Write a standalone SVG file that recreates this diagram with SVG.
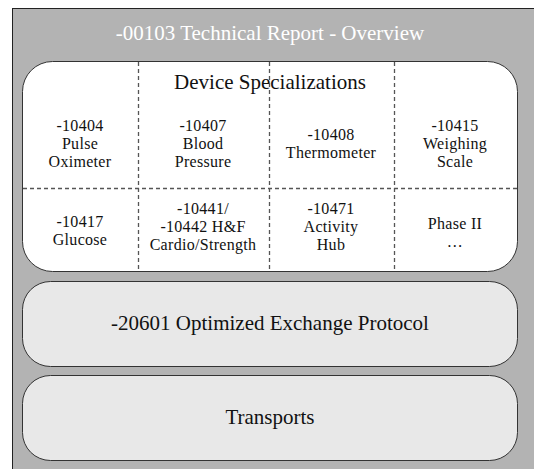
<svg xmlns="http://www.w3.org/2000/svg" width="534" height="469" viewBox="0 0 534 469">
<style>
text{font-family:"Liberation Serif","DejaVu Serif",serif;text-anchor:middle;fill:#111}
.t{font-size:16px;letter-spacing:0.3px}
.h{font-size:21px}
.d{stroke:#555;stroke-width:1.3;stroke-dasharray:4 3;fill:none}
.box{stroke:#333;stroke-width:1}
</style>
<g id="frame">
<rect x="12.5" y="8.5" width="530" height="470" fill="#b3b3b3" stroke="#222" stroke-width="1"/>
<text x="270" y="40" class="h" style="fill:#fff">-00103 Technical Report - Overview</text>
</g>
<g id="device-specializations">
<rect x="22.5" y="61.5" width="495" height="210" rx="30" ry="30" fill="#fff" class="box"/>
<text x="270" y="89" class="h">Device Specializations</text>
</g>
<g id="connectors">
<line x1="138.5" y1="62" x2="138.5" y2="271" class="d"/>
<line x1="269.5" y1="62" x2="269.5" y2="271" class="d"/>
<line x1="394.5" y1="62" x2="394.5" y2="271" class="d"/>
<line x1="23" y1="188.5" x2="517" y2="188.5" class="d"/>
</g>
<g id="c10404"><text x="80" y="131" class="t">-10404</text><text x="80" y="149" class="t">Pulse</text><text x="80" y="167" class="t">Oximeter</text></g>
<g id="c10407"><text x="203" y="131" class="t">-10407</text><text x="203" y="149" class="t">Blood</text><text x="203" y="167" class="t">Pressure</text></g>
<g id="c10408"><text x="331" y="140" class="t">-10408</text><text x="331" y="158" class="t">Thermometer</text></g>
<g id="c10415"><text x="455" y="131" class="t">-10415</text><text x="455" y="149" class="t">Weighing</text><text x="455" y="167" class="t">Scale</text></g>
<g id="c10417"><text x="80" y="227" class="t">-10417</text><text x="80" y="245" class="t">Glucose</text></g>
<g id="c10441"><text x="203" y="214" class="t">-10441/</text><text x="203" y="232" class="t">-10442 H&amp;F</text><text x="203" y="250" class="t">Cardio/Strength</text></g>
<g id="c10471"><text x="331" y="214" class="t">-10471</text><text x="331" y="232" class="t">Activity</text><text x="331" y="250" class="t">Hub</text></g>
<g id="phase2"><text x="455" y="229" class="t">Phase  II</text><text x="455" y="247" class="t">…</text></g>
<g id="exchange-protocol">
<rect x="22.5" y="281.5" width="495" height="85" rx="28" ry="28" fill="#e8e8e8" class="box"/>
<text x="270" y="330" class="h">-20601 Optimized Exchange Protocol</text>
</g>
<g id="transports">
<rect x="22.5" y="375.5" width="495" height="85" rx="28" ry="28" fill="#e8e8e8" class="box"/>
<text x="270" y="424" class="h">Transports</text>
</g>
</svg>
